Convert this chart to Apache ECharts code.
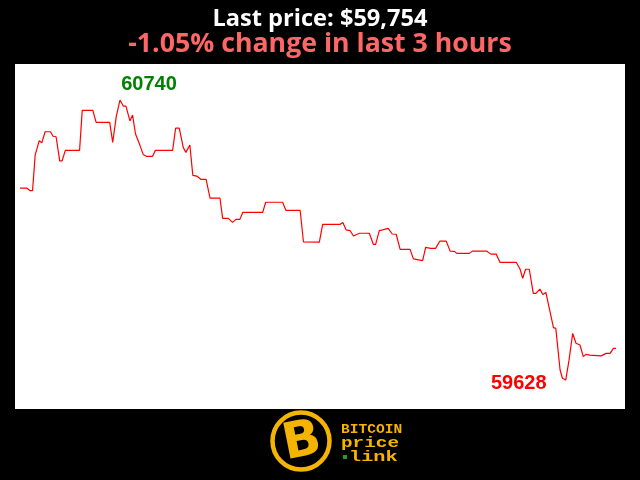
<!DOCTYPE html>
<html>
<head>
<meta charset="utf-8">
<script src="https://cdn.jsdelivr.net/npm/echarts@6/dist/echarts.min.js"></script>
<style>html,body{margin:0;padding:0;background:#000;}#c{width:640px;height:480px;}</style>
</head>
<body>
<div id="c"></div>
<script>
// minutes since start of the 3-hour window
var minutes = [0,2.1,3.1,3.8,4.6,5.8,6.6,7.6,9.2,10.0,10.9,12.0,12.7,13.7,18.0,18.8,22.0,23.0,27.1,28.0,29.1,30.2,31.2,32.0,33.2,34.0,34.9,36.2,37.2,38.3,40.0,40.9,46.1,47.0,48.1,49.3,50.1,51.3,52.2,53.4,54.6,56.2,57.4,60.4,61.2,62.9,64.2,65.2,66.4,67.3,73.3,74.2,79.3,80.3,84.6,85.6,90.4,91.4,96.6,97.5,98.5,99.7,100.7,102.5,105.5,106.7,107.4,108.5,109.5,111.2,112.4,113.6,114.8,117.8,118.8,121.6,122.5,124.0,125.5,126.8,128.7,129.9,131.2,131.9,135.7,136.6,140.9,142.2,143.8,145.0,149.9,151.0,151.8,152.7,153.8,155.0,155.8,157.0,157.9,158.8,161.1,161.8,163.1,163.8,164.8,165.8,166.9,167.9,169.1,170.1,170.9,172.1,175.5,176.0,177.0,178.2,179.2,180.0];
var prices = [60390,60390,60380,60380,60522,60578,60570,60614,60614,60596,60594,60498,60498,60540,60540,60699,60699,60651,60651,60572,60676,60740,60716,60716,60657,60680,60605,60561,60524,60516,60516,60540,60540,60628,60628,60552,60532,60561,60441,60438,60425,60425,60350,60350,60270,60270,60254,60266,60266,60294,60294,60334,60334,60302,60302,60177,60176,60246,60246,60254,60224,60221,60200,60211,60211,60167,60167,60221,60224,60230,60208,60207,60147,60147,60109,60102,60155,60151,60151,60180,60180,60140,60139,60131,60131,60140,60140,60128,60128,60095,60095,60069,60032,60068,60068,59972,59972,59989,59968,59976,59836,59833,59668,59635,59628,59707,59813,59774,59767,59721,59730,59727,59724,59718,59734,59734,59754,59754];
var titleLines = ['Last price: $59,754', '-1.05% change in last 3 hours'];
var logoLines = ['BITCOIN', 'price', 'link'];

var data = minutes.map(function (m, i) { return [m, prices[i]]; });
var chart = echarts.init(document.getElementById('c'));
chart.setOption({
  backgroundColor: '#000',
  animation: false,
  title: [
    { text: titleLines[0], left: 'center', top: 2,
      textStyle: { color: '#fff', fontFamily: 'Open Sans', fontWeight: 'bold', fontSize: 23.6 } },
    { text: titleLines[1], left: 'center', top: 26,
      textStyle: { color: '#ff6666', fontFamily: 'Open Sans', fontWeight: 'bold', fontSize: 26.7 } }
  ],
  grid: { left: 15, right: 15, top: 64, bottom: 71, show: true, backgroundColor: '#fff', borderWidth: 0 },
  xAxis: { type: 'value', min: -1.5, max: 182.7, show: false },
  yAxis: { type: 'value', min: 59513, max: 60883, show: false },
  series: [{
    type: 'line',
    data: data,
    symbol: 'none',
    lineStyle: { color: '#ff0000', width: 1.2 },
    markPoint: {
      symbol: 'circle', symbolSize: 0,
      data: [
        { type: 'max', label: { offset: [29, -16], color: '#008000' } },
        { type: 'min', label: { offset: [-47, 3], color: '#ff0000' } }
      ],
      label: { show: true, formatter: '{c}', fontFamily: 'Liberation Sans', fontWeight: 'bold', fontSize: 20 }
    }
  }],
  graphic: [
    { type: 'circle', shape: { cx: 301, cy: 441, r: 28.5 }, style: { fill: '#000', stroke: '#f5b400', lineWidth: 4.5 } },
    { type: 'text', x: 302, y: 443, rotation: 0.2, style: { text: 'B', fill: '#f5b400', font: '900 50px "DejaVu Sans"', align: 'center', verticalAlign: 'middle' } },
    { type: 'text', x: 341, y: 430, scaleX: 1.12, style: { text: logoLines[0], fill: '#f5b400', font: 'bold 13px "Liberation Mono"', verticalAlign: 'middle' } },
    { type: 'text', x: 341, y: 443, scaleX: 1.38, style: { text: logoLines[1], fill: '#f5b400', font: 'bold 14px "Liberation Mono"', verticalAlign: 'middle' } },
    { type: 'rect', shape: { x: 343, y: 455, width: 4, height: 4 }, style: { fill: '#1fa01f' } },
    { type: 'text', x: 349, y: 457, scaleX: 1.45, style: { text: logoLines[2], fill: '#f5b400', font: 'bold 14px "Liberation Mono"', verticalAlign: 'middle' } }
  ]
});
</script>
</body>
</html>
